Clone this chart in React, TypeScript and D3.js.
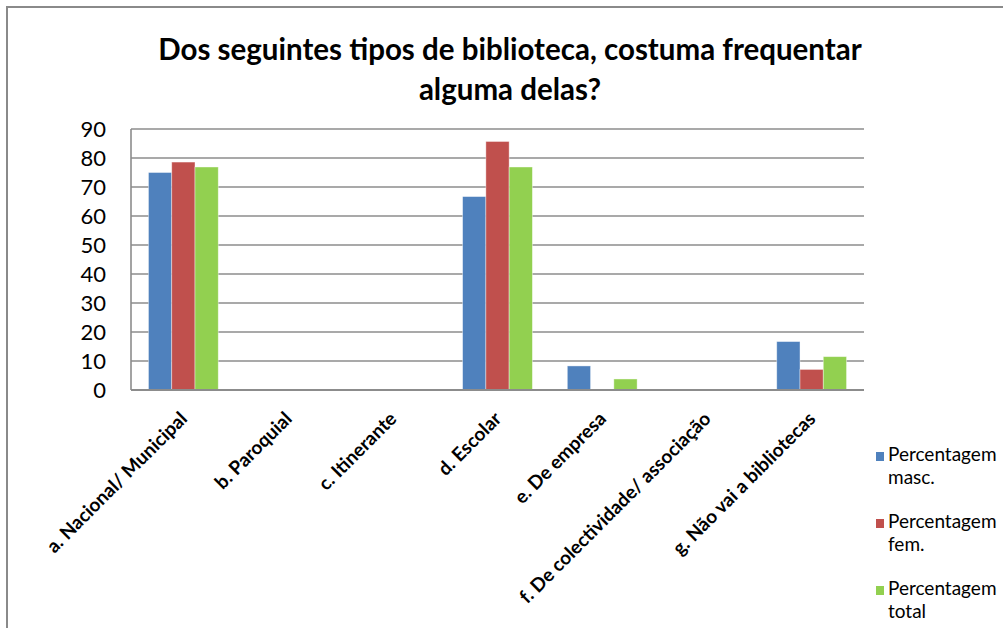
import * as d3 from 'd3'

const categories = [
  'a. Nacional/ Municipal',
  'b. Paroquial',
  'c. Itinerante',
  'd. Escolar',
  'e. De empresa',
  'f. De colectividade/ associação',
  'g. Não vai a bibliotecas',
]
const seriesNames = ['Percentagem masc.', 'Percentagem fem.', 'Percentagem total']
const legendLines = [
  ['Percentagem', 'masc.'],
  ['Percentagem', 'fem.'],
  ['Percentagem', 'total'],
]
const masc = [75, 0, 0, 66.7, 8.3, 0, 16.7]
const fem = [78.6, 0, 0, 85.7, 0, 0, 7.1]
const total = [76.9, 0, 0, 76.9, 3.8, 0, 11.5]
const yTicks = [0, 10, 20, 30, 40, 50, 60, 70, 80, 90]

const COLORS = ['#4f81bd', '#c0504d', '#92d050']
const FONT = 'Lato, "Open Sans", sans-serif'

export default function App() {
  const width = 1003
  const height = 628
  const plot = { left: 131, right: 864, top: 129, bottom: 390 }
  const series = [masc, fem, total]

  // Excel style clustered bars, gap width 150%
  const x0 = d3.scaleBand<string>().domain(categories).range([plot.left, plot.right])
  const inner = d3
    .scaleBand<number>()
    .domain([0, 1, 2])
    .range([0, x0.bandwidth() / 1.5])
  const y = d3.scaleLinear().domain([0, 90]).range([plot.bottom, plot.top])

  const groupOffset = (x0.bandwidth() - x0.bandwidth() / 1.5) / 2

  return (
    <svg
      width={width}
      height={height}
      style={{ position: 'absolute', left: 0, top: 0, background: '#fff' }}
      fontFamily={FONT}
    >
      <rect x={7} y={7} width={width} height={height} fill="#fff" stroke="#8a8a8a" strokeWidth={2} />

      <text x={510} y={60} textAnchor="middle" fontSize={29.5} fontWeight={700} fill="#000">
        Dos seguintes tipos de biblioteca, costuma frequentar
      </text>
      <text x={510} y={100} textAnchor="middle" fontSize={29.5} fontWeight={700} fill="#000">
        alguma delas?
      </text>

      {yTicks.map(t => (
        <g key={`grid-${t}`}>
          <line x1={plot.left} x2={plot.right} y1={y(t)} y2={y(t)} stroke="#8c8c8c" strokeWidth={1.6} />
          <text x={106} y={y(t) + 8} textAnchor="end" fontSize={22} fill="#000">
            {t}
          </text>
        </g>
      ))}
      <line x1={plot.left} x2={plot.left} y1={plot.top} y2={plot.bottom} stroke="#8c8c8c" strokeWidth={1.6} />

      {categories.map((c, ci) => (
        <g key={c}>
          {series.map((s, si) => {
            const v = s[ci]
            if (!v) return null
            return (
              <rect
                key={si}
                x={(x0(c) ?? 0) + groupOffset + (inner(si) ?? 0)}
                y={y(v)}
                width={inner.bandwidth()}
                height={plot.bottom - y(v)}
                fill={COLORS[si]}
                stroke="rgba(255,255,255,0.5)"
                strokeWidth={0.8}
              />
            )
          })}
        </g>
      ))}
      <line x1={plot.left} x2={plot.right} y1={plot.bottom} y2={plot.bottom} stroke="#8c8c8c" strokeWidth={2} />

      {categories.map(c => {
        const cx = (x0(c) ?? 0) + x0.bandwidth() / 2 + 5
        const cy = plot.bottom + 30
        return (
          <text
            key={`lab-${c}`}
            transform={`translate(${cx},${cy}) rotate(-45)`}
            textAnchor="end"
            fontSize={19}
            fontWeight={700}
            fill="#000"
          >
            {c}
          </text>
        )
      })}

      {seriesNames.map((name, i) => {
        const top = 452 + i * 67
        return (
          <g key={name}>
            <rect x={876} y={top} width={8} height={9} fill={COLORS[i]} />
            <text x={888} y={top + 9} fontSize={19} fill="#000">
              {legendLines[i][0]}
            </text>
            <text x={888} y={top + 32} fontSize={19} fill="#000">
              {legendLines[i][1]}
            </text>
          </g>
        )
      })}
    </svg>
  )
}
